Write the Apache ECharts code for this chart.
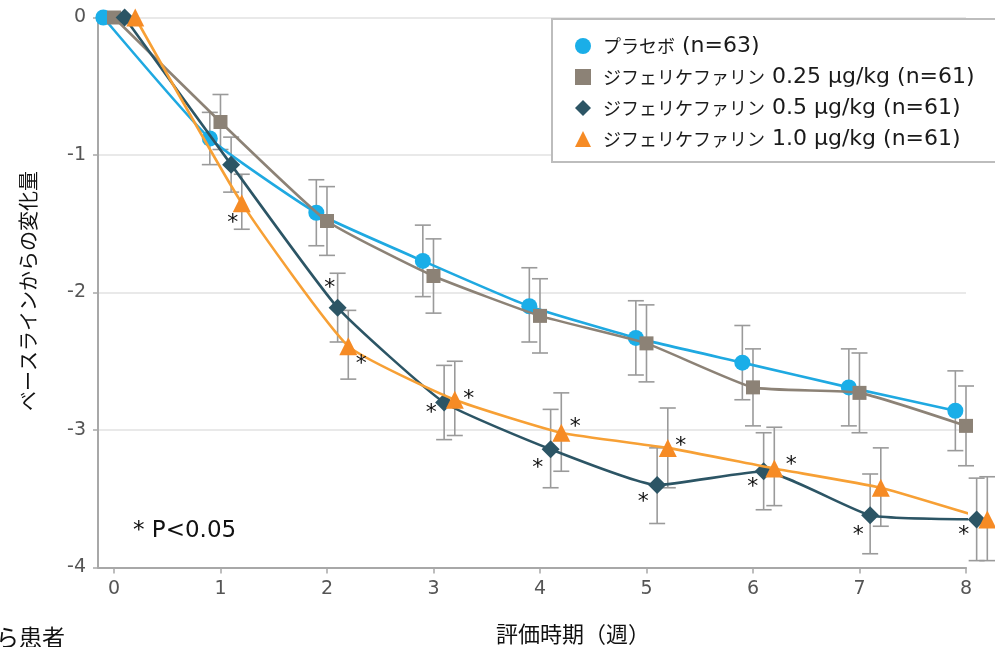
<!DOCTYPE html>
<html><head><meta charset="utf-8">
<script src="https://cdn.jsdelivr.net/npm/echarts@6/dist/echarts.min.js"></script>
<style>html,body{margin:0;padding:0;background:#fff}#c{width:995px;height:647px}</style>
</head><body><div id="c"></div>
<script>
// ---- data ----
const weeks = [0, 1, 2, 3, 4, 5, 6, 7, 8];
const xTicks = [0, 1, 2, 3, 4, 5, 6, 7, 8];
const seriesNames = [
  'プラセボ (n=63)',
  'ジフェリケファリン 0.25 μg/kg (n=61)',
  'ジフェリケファリン 0.5 μg/kg (n=61)',
  'ジフェリケファリン 1.0 μg/kg (n=61)'
];
const placebo     = [0, -0.88, -1.42, -1.77, -2.10, -2.33, -2.51, -2.69, -2.86];
const placeboLow  = [null, -1.07, -1.66, -2.03, -2.36, -2.60, -2.78, -2.97, -3.15];
const placeboHigh = [null, -0.69, -1.18, -1.51, -1.82, -2.06, -2.24, -2.41, -2.57];
const dose025     = [0, -0.76, -1.48, -1.88, -2.17, -2.37, -2.69, -2.73, -2.97];
const dose025Low  = [null, -0.96, -1.73, -2.15, -2.44, -2.65, -2.97, -3.02, -3.26];
const dose025High = [null, -0.56, -1.23, -1.61, -1.90, -2.09, -2.41, -2.44, -2.68];
const dose05      = [0, -1.07, -2.11, -2.80, -3.14, -3.40, -3.30, -3.62, -3.65];
const dose05Low   = [null, -1.27, -2.36, -3.07, -3.42, -3.68, -3.58, -3.90, -3.95];
const dose05High  = [null, -0.87, -1.86, -2.53, -2.85, -3.13, -3.02, -3.32, -3.35];
const dose10      = [0, -1.35, -2.39, -2.78, -3.02, -3.13, -3.28, -3.42, -3.65];
const dose10Low   = [null, -1.54, -2.63, -3.04, -3.30, -3.42, -3.55, -3.70, -3.95];
const dose10High  = [null, -1.14, -2.13, -2.50, -2.73, -2.84, -2.98, -3.13, -3.34];
const sigWeeks05 = [2, 3, 4, 5, 6, 7, 8];
const sigWeeks10 = [1, 2, 3, 4, 5, 6];
const sigNote = '* P<0.05';
const xTitle = '評価時期（週）';
const yTitle = 'ベースラインからの変化量';
const cutText = 'ら患者';

// ---- layout / style ----
const offsets = [-0.1, 0, 0.1, 0.2];
const colors = ['#1aaee8', '#8c8276', '#2c5565', '#f68b25'];
const lineColors = ['#1fa9e1', '#8c8276', '#2c5565', '#f7a035'];
const symbols = ['circle', 'rect', 'diamond', 'triangle'];
const symbolSizes = [16, 14, 18, 18];
// asterisk pixel offsets from marker centre
const astOff05 = {2: [-8, -23], 3: [-13, 7], 4: [-13, 15], 5: [-14, 13], 6: [-11, 12], 7: [-12, 16], 8: [-13, 12]};
const astOff10 = {1: [-9, 16], 2: [13, 14], 3: [14, -4], 4: [14, -9], 5: [13, -6], 6: [17, -7]};

const values = [placebo, dose025, dose05, dose10];
const lows = [placeboLow, dose025Low, dose05Low, dose10Low];
const highs = [placeboHigh, dose025High, dose05High, dose10High];

function errSeries(k) {
  const data = [];
  weeks.forEach((w, i) => { if (lows[k][i] != null) data.push([w + offsets[k], lows[k][i], highs[k][i]]); });
  return {
    type: 'custom', silent: true, z: 1, data: data,
    encode: {x: 0, y: [1, 2]},
    renderItem: function (params, api) {
      const x = api.value(0);
      const p1 = api.coord([x, api.value(1)]);
      const p2 = api.coord([x, api.value(2)]);
      const c = 8, st = {stroke: '#9a9a9a', lineWidth: 1.6};
      return {type: 'group', children: [
        {type: 'line', shape: {x1: p1[0], y1: p1[1], x2: p2[0], y2: p2[1]}, style: st},
        {type: 'line', shape: {x1: p1[0] - c, y1: p1[1], x2: p1[0] + c, y2: p1[1]}, style: st},
        {type: 'line', shape: {x1: p2[0] - c, y1: p2[1], x2: p2[0] + c, y2: p2[1]}, style: st}
      ]};
    }
  };
}
function astSeries(k, sigWeeks, off) {
  const data = sigWeeks.map(w => [w + offsets[k], values[k][weeks.indexOf(w)], w]);
  return {
    type: 'custom', silent: true, z: 5, data: data,
    encode: {x: 0, y: 1},
    renderItem: function (params, api) {
      const p = api.coord([api.value(0), api.value(1)]);
      const o = off[api.value(2)];
      return {type: 'text', x: p[0] + o[0], y: p[1] + o[1] + 4,
        style: {text: '*', fill: '#111', font: '22px "DejaVu Sans"', textAlign: 'center', textVerticalAlign: 'middle'}};
    }
  };
}

const series = [];
for (let k = 0; k < 4; k++) series.push(errSeries(k));
for (let k = 0; k < 4; k++) {
  series.push({
    type: 'line', name: seriesNames[k], z: 2 + k * 0.1, clip: false, smooth: 0.15,
    data: weeks.map((w, i) => [w + offsets[k], values[k][i]]),
    symbol: symbols[k], symbolSize: symbolSizes[k], showSymbol: true,
    itemStyle: {color: colors[k], borderWidth: 0},
    lineStyle: {color: lineColors[k], width: 2.6},
    emphasis: {disabled: true}, animation: false
  });
}
series.push(astSeries(2, sigWeeks05, astOff05));
series.push(astSeries(3, sigWeeks10, astOff10));

const chart = echarts.init(document.getElementById('c'), null, {renderer: 'canvas'});
chart.setOption({
  animation: false,
  backgroundColor: '#fff',
  grid: {left: 98, right: 29, top: 17.5, bottom: 79.5, containLabel: false},
  xAxis: {
    type: 'value', min: -0.15, max: 8,
    axisLine: {show: true, onZero: false, lineStyle: {color: '#a8a8a8', width: 2}},
    axisTick: {show: true, customValues: xTicks, length: 6, lineStyle: {color: '#a8a8a8', width: 1.5}},
    axisLabel: {customValues: xTicks, color: '#555', fontSize: 19, fontFamily: '"DejaVu Sans",sans-serif', margin: 12},
    splitLine: {show: false}
  },
  yAxis: {
    type: 'value', min: -4, max: 0, interval: 1,
    axisLine: {show: true, onZero: false, lineStyle: {color: '#a8a8a8', width: 2}},
    axisTick: {show: true, length: 5, lineStyle: {color: '#a8a8a8', width: 1.5}},
    axisLabel: {color: '#555', fontSize: 19, fontFamily: '"DejaVu Sans",sans-serif', margin: 12},
    splitLine: {show: true, lineStyle: {color: '#e2e2e2', width: 1.5}}
  },
  legend: {
    data: seriesNames.map((n, k) => ({name: n, icon: symbols[k]})),
    orient: 'vertical', left: 552, top: 19,
    itemWidth: 16, itemHeight: 16, itemGap: 9,
    padding: [16, 60, 12, 23],
    borderColor: '#bdbdbd', borderWidth: 2, backgroundColor: '#fff',
    selectedMode: false,
    formatter: function (name) {
      const i = name.indexOf(' ');
      return '{k|' + name.slice(0, i) + '}{l|' + name.slice(i) + '}';
    },
    textStyle: {
      rich: {
        k: {fontFamily: '"Noto Sans CJK JP",sans-serif', fontSize: 18, color: '#1a1a1a', lineHeight: 20, padding: [0, 0, 0, 7]},
        l: {fontFamily: '"DejaVu Sans",sans-serif', fontSize: 22, color: '#1a1a1a', lineHeight: 20}
      }
    }
  },
  graphic: [
    {type: 'text', left: 133, top: 520, style: {text: sigNote, fill: '#111', font: '23px "DejaVu Sans"'}},
    {type: 'text', x: 573, y: 634, style: {text: xTitle, fill: '#111', font: '22px "Noto Sans CJK JP"', textAlign: 'center', textVerticalAlign: 'middle'}},
    {type: 'text', x: 28, y: 291, rotation: Math.PI / 2, style: {text: yTitle, fill: '#111', font: '20px "Noto Sans CJK JP"', textAlign: 'center', textVerticalAlign: 'middle'}},
    {type: 'text', x: -4, y: 637, style: {text: cutText, fill: '#111', font: '23px "Noto Sans CJK JP"', textAlign: 'left', textVerticalAlign: 'middle'}}
  ],
  series: series
});
</script></body></html>
